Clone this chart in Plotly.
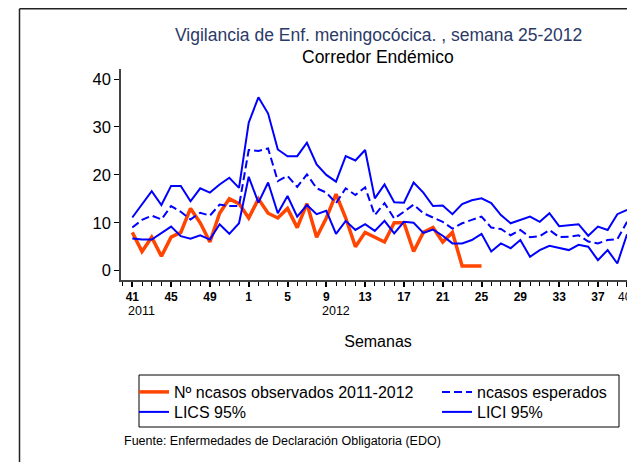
import plotly.graph_objects as go

# ---- data ----
weeks = [41, 42, 43, 44, 45, 46, 47, 48, 49, 50, 51, 52] + list(range(1, 41))
observed = [8, 4, 7, 3, 7, 8, 13, 10, 6, 12, 15, 14,
            11, 15, 12, 11, 13, 9, 14, 7, 11, 16, 11, 5, 8,
            7, 6, 10, 10, 4, 8, 9, 6, 8, 1, 1, 1]
expected = [9.0, 10.6, 11.5, 10.7, 13.5, 12.3, 10.7, 12.1, 11.5, 13.8, 13.5, 13.5,
            25.2, 25.0, 25.5, 18.7, 19.8, 17.5, 20.1, 17.2, 16.3, 14.1, 17.2, 15.8, 17.4,
            11.6, 14.1, 10.9, 12.3, 13.8, 12.0, 11.1, 10.2, 8.8, 9.9, 10.6, 11.3, 9.0,
            8.7, 7.4, 8.5, 7.0, 7.2, 8.5, 7.0, 7.1, 7.4, 6.1, 5.7, 6.4, 6.6, 10.2]
lics = [11.1, 13.8, 16.6, 13.7, 17.7, 17.7, 14.5, 17.2, 16.3, 18.0, 19.4, 17.3,
        30.9, 36.2, 32.8, 25.3, 23.9, 23.9, 26.7, 22.2, 20.0, 18.6, 23.9, 23.0, 25.2,
        15.1, 18.0, 14.3, 14.2, 18.4, 16.3, 13.5, 13.6, 11.8, 13.9, 14.7, 15.1, 14.1,
        11.6, 9.9, 10.6, 11.3, 10.2, 12.0, 9.3, 9.5, 9.7, 7.3, 9.2, 8.5, 11.8, 12.7]
lici = [6.7, 6.5, 6.5, 7.8, 9.2, 7.2, 6.7, 7.4, 6.5, 9.7, 7.7, 9.9,
        19.6, 14.2, 18.4, 12.0, 15.6, 11.3, 13.7, 11.8, 12.5, 7.7, 10.4, 8.5, 9.7,
        8.3, 10.4, 7.8, 10.2, 10.0, 7.9, 8.6, 7.3, 5.7, 5.7, 6.4, 7.7, 4.0,
        5.7, 4.7, 6.4, 2.9, 4.3, 5.2, 4.7, 4.3, 5.4, 5.0, 2.2, 4.3, 1.5, 7.6]
tick_idx = [0, 4, 8, 12, 16, 20, 24, 28, 32, 36, 40, 44, 48, 51]
year_labels = ["2011", "2012"]

x = list(range(len(weeks)))
FONT = "Liberation Sans, Arial, sans-serif"

fig = go.Figure()
fig.add_trace(go.Scatter(x=x[:len(observed)], y=observed, mode="lines",
                         name="Nº ncasos observados 2011-2012", legend="legend",
                         line=dict(color="#ff4500", width=3.5)))
fig.add_trace(go.Scatter(x=x, y=expected, mode="lines", name="ncasos esperados",
                         legend="legend2",
                         line=dict(color="#0000ff", width=2, dash="8px,4px")))
fig.add_trace(go.Scatter(x=x, y=lics, mode="lines", name="LICS 95%", legend="legend3",
                         line=dict(color="#0000ff", width=2)))
fig.add_trace(go.Scatter(x=x, y=lici, mode="lines", name="LICI 95%", legend="legend4",
                         line=dict(color="#0000ff", width=2)))

last = len(weeks) - 1
ticktext = []
for i in tick_idx:
    # the last label sits on the right edge; it is written as an annotation below
    ticktext.append("" if i == last else "<b>" + str(weeks[i]) + "</b>")

# page has an 8px body margin: figure is drawn at (8, 8) in the window
L, R, T, B = 113, 0, 61, 182
W, H = 627, 454
pw, ph = W - L - R, H - T - B

def px(X):  # window x -> paper
    return (X - 8 - L) / pw

def py(Y):  # window y -> paper
    return (H - B - (Y - 8)) / ph

leg_common = dict(orientation="v", xanchor="left", yanchor="middle",
                  borderwidth=0, bgcolor="rgba(0,0,0,0)", font=dict(size=16),
                  itemwidth=30)

fig.update_layout(
    width=W, height=H,
    margin=dict(l=L, r=R, t=T, b=B, autoexpand=False),
    paper_bgcolor="white", plot_bgcolor="white",
    font=dict(family=FONT, color="black"),
    showlegend=True,
    legend=dict(x=px(134), y=py(392), **leg_common),
    legend2=dict(x=px(437), y=py(392), **leg_common),
    legend3=dict(x=px(134), y=py(412), **leg_common),
    legend4=dict(x=px(437), y=py(412), **leg_common),
    xaxis=dict(range=[-1.165, 51.82], showgrid=False, zeroline=False,
               showline=True, linecolor="#444", linewidth=1.5, automargin=False,
               tickmode="array", tickvals=tick_idx, ticktext=ticktext,
               ticks="outside", ticklen=5, tickwidth=2, tickcolor="black",
               ticklabeloverflow="allow",
               tickfont=dict(size=12, color="black"),
               minor=dict(dtick=1, tick0=0, ticks="outside", ticklen=4,
                          tickwidth=1, tickcolor="black"),
               title=dict(text="Semanas", font=dict(size=16), standoff=33)),
    yaxis=dict(range=[-1.94, 42.1], showgrid=False, zeroline=False,
               showline=True, linecolor="#444", linewidth=1.5, automargin=False,
               tickvals=[0, 10, 20, 30, 40], ticks="outside", ticklen=5,
               tickcolor="black", tickfont=dict(size=16.5, color="black")),
)

fig.add_annotation(x=px(634), y=py(296.5), xref="paper", yref="paper", showarrow=False,
                   xanchor="right", yanchor="middle", text=str(weeks[last]),
                   font=dict(size=12, color="black"))
fig.add_annotation(x=0.5, y=py(35), xref="paper", yref="paper", showarrow=False,
                   text="Vigilancia de Enf. meningocócica. , semana 25-2012",
                   font=dict(size=17.5, color="#2b3a67"), yanchor="middle")
fig.add_annotation(x=0.5, y=py(57), xref="paper", yref="paper", showarrow=False,
                   text="Corredor Endémico", font=dict(size=17.5, color="black"),
                   yanchor="middle")
fig.add_annotation(x=0.9, y=py(311), xref="x", yref="paper", showarrow=False,
                   text=year_labels[0], font=dict(size=12.5, color="black"),
                   yanchor="middle")
fig.add_annotation(x=21.0, y=py(311), xref="x", yref="paper", showarrow=False,
                   text=year_labels[1], font=dict(size=12.5, color="black"),
                   yanchor="middle")
fig.add_annotation(x=px(122), y=py(441), xref="paper", yref="paper", showarrow=False,
                   xanchor="left", yanchor="middle",
                   text="Fuente: Enfermedades de Declaración Obligatoria (EDO)",
                   font=dict(size=12.5, color="black"))

# legend box
fig.add_shape(type="rect", xref="paper", yref="paper", x0=px(139), x1=px(619),
              y0=py(375), y1=py(427), line=dict(color="black", width=1))
# outer frame (left and top edges visible)
fig.add_shape(type="line", xref="paper", yref="paper", x0=px(19.5), x1=px(19.5),
              y0=py(8.75), y1=py(480), line=dict(color="#222", width=1.5))
fig.add_shape(type="line", xref="paper", yref="paper", x0=px(19.5), x1=px(650),
              y0=py(8.75), y1=py(8.75), line=dict(color="#222", width=1.5))

fig.write_html("out.html")
